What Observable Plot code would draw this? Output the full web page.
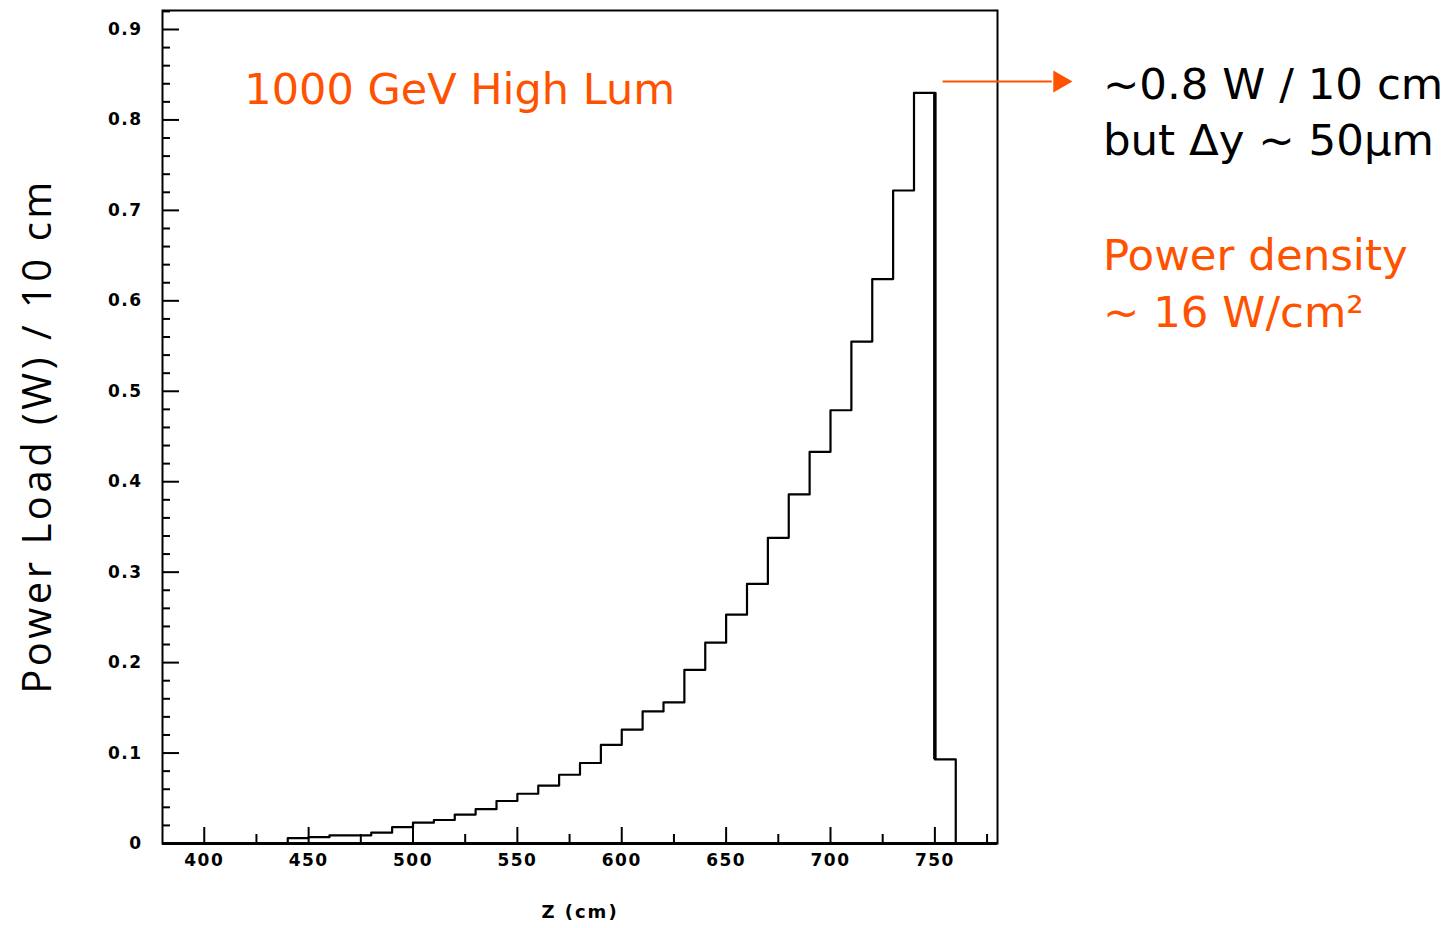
<!DOCTYPE html>
<html><head><meta charset="utf-8">
<script src="https://cdn.jsdelivr.net/npm/d3@7"></script>
<script src="https://cdn.jsdelivr.net/npm/@observablehq/plot@0.6"></script>
<style>
html,body{margin:0;padding:0;background:#fff;}
#chart svg{display:block;}
#chart g[aria-label$="tick label"] text{letter-spacing:1.5px;}
#chart .ytitle text{letter-spacing:3.5px;}
#chart .xtitle text{letter-spacing:2px;}
</style></head><body><div id="chart"></div>
<script>
// Histogram bins (lower edge, cm) and power load per 10 cm bin (W)
const binStart = [440,450,460,470,480,490,500,510,520,530,540,550,560,570,580,590,600,610,620,630,640,650,660,670,680,690,700,710,720,730,740,750];
const powerLoad = [0.006,0.007,0.009,0.009,0.012,0.018,0.023,0.026,0.032,0.038,0.047,0.055,0.064,0.076,0.089,0.109,0.126,0.146,0.156,0.192,0.222,0.253,0.287,0.338,0.386,0.433,0.479,0.555,0.624,0.722,0.830,0.093];
const binWidth = 10;

const xTickLabels = [400,450,500,550,600,650,700,750];
const xMinorTicks = [425,475,525,575,625,675,725,775];
const yTickLabels = [0,0.1,0.2,0.3,0.4,0.5,0.6,0.7,0.8,0.9];
const yMinorTicks = [0.02,0.04,0.06,0.08,0.12,0.14,0.16,0.18,0.22,0.24,0.26,0.28,0.32,0.34,0.36,0.38,0.42,0.44,0.46,0.48,0.52,0.54,0.56,0.58,0.62,0.64,0.66,0.68,0.72,0.74,0.76,0.78,0.82,0.84,0.86,0.88,0.92];

const xTitle = "Z (cm)";
const yTitle = "Power Load (W) / 10 cm";
const plotTitle = "1000 GeV High Lum";
const noteLines = ["~0.8 W / 10 cm", "but \u0394y ~ 50\u03bcm"];
const densityLines = ["Power density", "~ 16 W/cm\u00b2"];

const ORANGE = "#ff5200";
const annoFont = "'DejaVu Sans', sans-serif";

const last = binStart.length - 1;
const steps = [
  {z: binStart[0], v: 0},
  ...binStart.map((z, i) => ({z, v: powerLoad[i]})),
  {z: binStart[last] + binWidth, v: 0}
];

const tickLabelStyle = {fontFamily: "'DejaVu Sans', sans-serif", fontWeight: "bold", fontSize: 17};

const chart = Plot.plot({
  width: 1454, height: 928,
  marginLeft: 162, marginRight: 457, marginTop: 10, marginBottom: 85,
  x: {domain: [380, 780]},
  y: {domain: [0, 0.921]},
  style: {background: "white", overflow: "visible", color: "black"},
  marks: [
    // inward ticks
    Plot.axisY(yMinorTicks, {anchor: "left", tickSize: -8, fill: "none", strokeWidth: 2, label: null}),
    Plot.axisY(yTickLabels, {anchor: "left", tickSize: -17, fill: "none", strokeWidth: 2, label: null}),
    Plot.axisY(yTickLabels, {anchor: "left", tickSize: 0, tickPadding: 20, label: null,
      tickFormat: d => d === 0 ? "0" : d.toFixed(1), ...tickLabelStyle}),
    Plot.axisX(xMinorTicks, {anchor: "bottom", tickSize: -9, fill: "none", strokeWidth: 2, label: null}),
    Plot.axisX(xTickLabels, {anchor: "bottom", tickSize: -16, fill: "none", strokeWidth: 2, label: null}),
    Plot.axisX(xTickLabels, {anchor: "bottom", tickSize: 0, tickPadding: 10, label: null, ...tickLabelStyle}),
    Plot.frame({stroke: "black", strokeWidth: 2}),
    Plot.ruleY([0], {stroke: "black", strokeWidth: 3}),
    // histogram outline
    Plot.line(steps, {x: "z", y: "v", curve: "step-after", stroke: "black", strokeWidth: 2.2}),
    Plot.ruleX([{z: binStart[last], lo: powerLoad[last], hi: powerLoad[last - 1]}],
      {x: "z", y1: "lo", y2: "hi", stroke: "black", strokeWidth: 3.5}),
    // axis titles
    Plot.text([xTitle], {frameAnchor: "bottom", dy: 69, text: d => d, fontFamily: "'DejaVu Sans', sans-serif",
      fontWeight: "bold", fontSize: 18, lineAnchor: "middle", className: "xtitle"}),
    Plot.text([yTitle], {frameAnchor: "left", dx: -124, dy: 9, rotate: -90, text: d => d,
      fontFamily: "'Open Sans', sans-serif", fontSize: 40, lineAnchor: "middle", textAnchor: "middle", className: "ytitle"}),
    // annotations
    Plot.text([plotTitle], {x: 419.2, y: 0.8178, text: d => d, textAnchor: "start", lineAnchor: "bottom",
      fill: ORANGE, fontFamily: annoFont, fontSize: 43}),
    Plot.link([{x1: 753.7, x2: 806, y: 0.8425}], {x1: "x1", x2: "x2", y1: "y", y2: "y", stroke: ORANGE, strokeWidth: 2}),
    Plot.dot([{x: 809.8, y: 0.8425}], {x: "x", y: "y", symbol: "triangle", rotate: 90, r: 8.2, fill: ORANGE, stroke: "none"}),
    Plot.text(noteLines, {x: 830.5, y: (d, i) => [0.8234, 0.7607][i], text: d => d, textAnchor: "start", lineAnchor: "bottom",
      fill: "black", fontFamily: annoFont, fontSize: 43.5}),
    Plot.text(densityLines, {x: 830.5, y: (d, i) => [0.6336, 0.5708][i], text: d => d, textAnchor: "start", lineAnchor: "bottom",
      fill: ORANGE, fontFamily: annoFont, fontSize: 43.5})
  ]
});
document.getElementById("chart").appendChild(chart);
</script></body></html>
